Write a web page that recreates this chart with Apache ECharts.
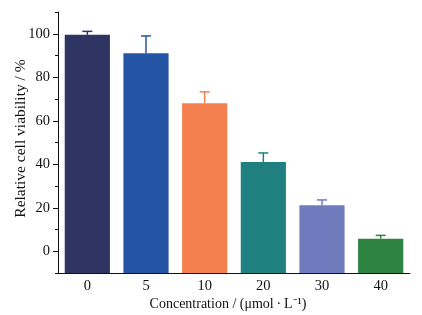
<!DOCTYPE html>
<html>
<head>
<meta charset="utf-8">
<script src="https://cdn.jsdelivr.net/npm/echarts@6/dist/echarts.min.js"></script>
<style>
  html, body { margin: 0; padding: 0; background: #fff; }
  #chart { width: 422px; height: 315px; }
</style>
</head>
<body>
<div id="chart"></div>
<script>
  // concentrations (µmol/L) and cell viability (%)
  var categories = ['0', '5', '10', '20', '30', '40']
  var viability = [99.5, 91, 68, 41, 21.2, 5.8]
  var errUp = [1.6, 8, 5.3, 4.2, 2.4, 1.5]
  var colors = ['#2f3563', '#2454a4', '#f4804f', '#208080', '#6e7bbd', '#2f8342']
  var majorTicks = [0, 20, 40, 60, 80, 100]
  var minorTicks = [-10, 10, 30, 50, 70, 90, 110]
  var axisMin = -10

  var font = 'Liberation Serif'
  var chart = echarts.init(document.getElementById('chart'))

  chart.setOption({
    animation: false,
    grid: { left: 58, right: 12, top: 12, bottom: 42, outerBoundsMode: 'none' },
    xAxis: {
      type: 'category',
      data: categories,
      name: 'Concentration / (\u03bcmol\u2009\u00b7\u2009L\u207b\u00b9)',
      nameLocation: 'middle',
      nameGap: 24,
      nameMoveOverlap: false,
      nameTextStyle: { fontFamily: font, fontSize: 14, color: '#111', padding: [0, 12, 0, 0] },
      axisLine: { onZero: false, lineStyle: { color: '#111', width: 1 } },
      axisTick: { inside: false, length: 3, lineStyle: { color: '#111' } },
      axisLabel: { fontFamily: font, fontSize: 14.5, color: '#111', margin: 6 }
    },
    yAxis: [
      {
        type: 'value',
        min: axisMin,
        max: 110,
        name: 'Relative cell viability / %',
        nameLocation: 'middle',
        nameGap: 29,
        nameMoveOverlap: false,
        nameTextStyle: { fontFamily: font, fontSize: 15.5, color: '#111', padding: [0, 0, 0, 8] },
        splitLine: { show: false },
        axisLine: { show: true, onZero: false, lineStyle: { color: '#111', width: 1 } },
        axisTick: { show: true, length: 5, customValues: majorTicks, lineStyle: { color: '#111' } },
        axisLabel: { fontFamily: font, fontSize: 14.5, color: '#111', margin: 8, customValues: majorTicks }
      },
      {
        type: 'value',
        min: axisMin,
        max: 110,
        position: 'left',
        splitLine: { show: false },
        axisLine: { show: false },
        axisTick: { show: true, length: 3, customValues: minorTicks, lineStyle: { color: '#111' } },
        axisLabel: { show: false }
      }
    ],
    series: [
      {
        // bars run from the bottom of the axis (-10) up to the value
        type: 'custom',
        data: viability.map(function (v, i) { return [i, v] }),
        renderItem: function (params, api) {
          var i = api.value(0)
          var top = api.coord([i, api.value(1)])
          var bottom = api.coord([i, axisMin])
          var w = api.size([1, 0])[0] * 0.77
          return {
            type: 'rect',
            shape: { x: top[0] - w / 2, y: top[1], width: w, height: bottom[1] - top[1] },
            style: { fill: colors[i] }
          }
        }
      },
      {
        type: 'custom',
        data: viability.map(function (v, i) { return [i, v, v + errUp[i]] }),
        renderItem: function (params, api) {
          var i = api.value(0)
          var base = api.coord([i, api.value(1)])
          var top = api.coord([i, api.value(2)])
          var half = 5
          var c = colors[i]
          return {
            type: 'group',
            children: [
              { type: 'line', shape: { x1: base[0], y1: base[1], x2: top[0], y2: top[1] }, style: { stroke: c, lineWidth: 1.5 } },
              { type: 'line', shape: { x1: top[0] - half, y1: top[1], x2: top[0] + half, y2: top[1] }, style: { stroke: c, lineWidth: 1.5 } }
            ]
          }
        },
        z: 3
      }
    ]
  })
</script>
</body>
</html>
